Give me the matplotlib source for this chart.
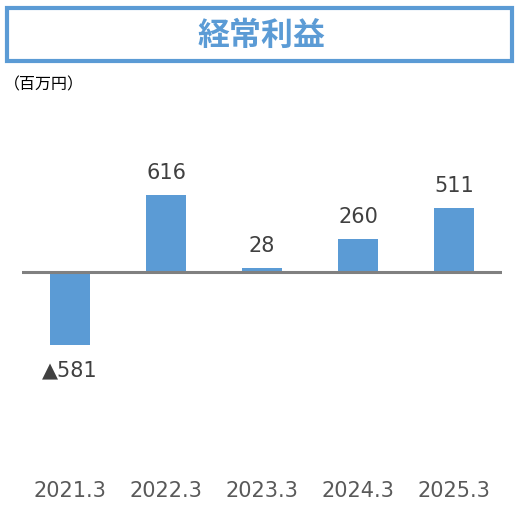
import matplotlib.pyplot as plt
from matplotlib.patches import Rectangle

# data
years = ['2021.3', '2022.3', '2023.3', '2024.3', '2025.3']
profit = [-581, 616, 28, 260, 511]
title = '経常利益'
unit = '（百万円）'

blue = '#5B9BD5'
W, H = 527, 513
fig = plt.figure(figsize=(W / 100, H / 100), dpi=100)

# title box
fig.patches.append(Rectangle((7 / W, 1 - 61 / H), 505 / W, 53 / H,
                             transform=fig.transFigure, fill=False,
                             edgecolor=blue, linewidth=3))
fig.text(261 / W, 1 - 36 / H, title, ha='center', va='center', color=blue,
         fontsize=23, fontweight='bold', family=['Noto Sans CJK JP', 'DejaVu Sans'])
fig.text(4 / W, 1 - 85 / H, unit, ha='left', va='center', color='#000000',
         fontsize=11.5, family=['Noto Sans CJK JP', 'DejaVu Sans'])

# plot area in pixels
left, right, top, bottom = 22, 502, 110, 460
ax = fig.add_axes([left / W, 1 - bottom / H, (right - left) / W, (bottom - top) / H])
zero_px = 272
scale = 0.1256  # px per unit
ax.set_ylim(-(bottom - zero_px) / scale, (zero_px - top) / scale)
x = range(len(years))
ax.bar(x, profit, width=0.42, color=blue, zorder=2)
ax.axhline(0, color='#808080', linewidth=2.2, zorder=3)
ax.set_xlim(-0.5, len(years) - 0.5)

for i, v in enumerate(profit):
    txt = f'▲{abs(v)}' if v < 0 else f'{v}'
    off = 22 / scale
    y = v + off if v >= 0 else v - off - 3 / scale
    ax.text(i, y, txt, ha='center', va='center', fontsize=15, color='#404040')

ax.set_xticks(list(x))
ax.set_xticklabels(years, fontsize=15, color='#595959')
ax.tick_params(axis='x', length=0, pad=15)
ax.set_yticks([])
for s in ax.spines.values():
    s.set_visible(False)

fig.savefig('out.png', dpi=100)
